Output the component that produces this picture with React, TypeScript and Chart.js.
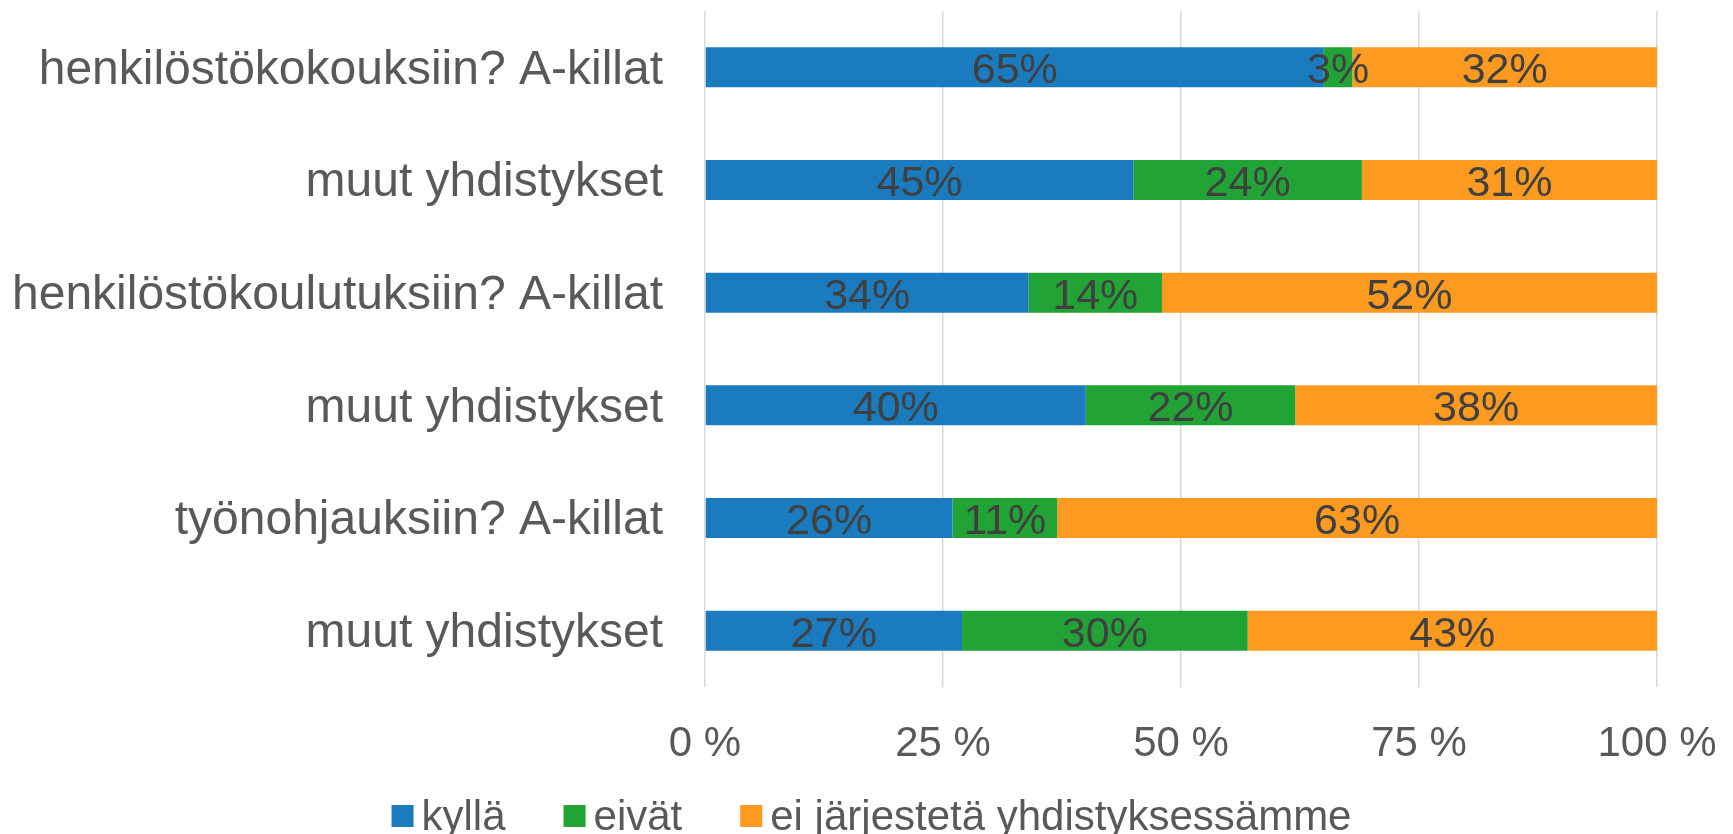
import React, { useEffect, useRef } from "react";
import { Chart, registerables } from "chart.js";

Chart.register(...registerables);

const categories = [
  "henkilöstökokouksiin? A-killat",
  "muut yhdistykset",
  "henkilöstökoulutuksiin? A-killat",
  "muut yhdistykset",
  "työnohjauksiin? A-killat",
  "muut yhdistykset",
];
const seriesNames = ["kyllä", "eivät", "ei järjestetä yhdistyksessämme"];
const kyllaValues = [65, 45, 34, 40, 26, 27];
const eivatValues = [3, 24, 14, 22, 11, 30];
const eiJarjValues = [32, 31, 52, 38, 63, 43];
const xTicks = [0, 25, 50, 75, 100];
const colors = ["#1a7bbf", "#21a336", "#fd9a1f"];

const FONT = "'Liberation Sans', Arial, sans-serif";

const dataLabelPlugin = {
  id: "dataLabels",
  afterDatasetsDraw(chart: any) {
    const ctx = chart.ctx;
    ctx.save();
    ctx.font = `43px ${FONT}`;
    ctx.fillStyle = "#404040";
    ctx.textAlign = "center";
    ctx.textBaseline = "middle";
    chart.data.datasets.forEach((ds: any, di: number) => {
      const meta = chart.getDatasetMeta(di);
      meta.data.forEach((el: any, i: number) => {
        const v = ds.data[i];
        if (!v) return;
        const cx = (el.x + el.base) / 2;
        ctx.fillText(`${v}%`, cx, el.y + 4);
      });
    });
    ctx.restore();
  },
};

const legendPlugin = {
  id: "customLegend",
  afterDraw(chart: any) {
    const ctx = chart.ctx;
    ctx.save();
    ctx.font = `42px ${FONT}`;
    const box = 22;
    const gapText = 8;
    const gapItem = 58;
    const items = chart.data.datasets.map((ds: any) => ({
      label: ds.label,
      color: ds.backgroundColor,
      w: box + gapText + ctx.measureText(ds.label).width,
    }));
    const total = items.reduce((s: number, it: any) => s + it.w, 0) + gapItem * (items.length - 1);
    let x = chart.width / 2 + 5 - total / 2;
    const cy = 816;
    items.forEach((it: any) => {
      ctx.fillStyle = it.color;
      ctx.fillRect(x, cy - box / 2, box, box);
      ctx.fillStyle = "#595959";
      ctx.textAlign = "left";
      ctx.textBaseline = "middle";
      ctx.fillText(it.label, x + box + gapText, cy + 2);
      x += it.w + gapItem;
    });
    ctx.restore();
  },
};

export default function App() {
  const canvasRef = useRef<HTMLCanvasElement | null>(null);

  useEffect(() => {
    if (!canvasRef.current) return;
    const chart = new Chart(canvasRef.current, {
      type: "bar",
      data: {
        labels: categories,
        datasets: [kyllaValues, eivatValues, eiJarjValues].map((vals, i) => ({
          label: seriesNames[i],
          data: vals,
          backgroundColor: colors[i],
          borderWidth: 0,
          categoryPercentage: 1,
          barPercentage: 0.355,
        })),
      },
      options: {
        indexAxis: "y",
        animation: false,
        responsive: true,
        maintainAspectRatio: false,
        layout: { padding: { top: 11, right: 76, bottom: 0, left: 0 } },
        plugins: {
          legend: { display: false },
          tooltip: { enabled: false },
        },
        scales: {
          x: {
            stacked: true,
            min: 0,
            max: 100,
            afterBuildTicks(scale: any) {
              scale.ticks = xTicks.map((v) => ({ value: v }));
            },
            afterFit(scale: any) {
              scale.height = 147;
              scale.paddingLeft = 0;
              scale.paddingRight = 0;
            },
            ticks: {
              padding: 32,
              color: "#595959",
              font: { family: FONT, size: 42 },
              callback: (v: any) => `${v} %`,
              maxRotation: 0,
            },
            grid: { color: "#d9d9d9", lineWidth: 1.5, drawTicks: false },
            border: { display: false },
          },
          y: {
            stacked: true,
            afterFit(scale: any) {
              scale.width = 705;
              scale.paddingTop = 0;
              scale.paddingBottom = 0;
            },
            ticks: {
              padding: 42,
              labelOffset: 3,
              color: "#595959",
              font: { family: FONT, size: 48 },
            },
            grid: { display: false, drawTicks: false },
            border: { display: false },
          },
        },
      },
      plugins: [dataLabelPlugin, legendPlugin],
    });
    return () => chart.destroy();
  }, []);

  return (
    <div style={{ position: "absolute", left: 0, top: 0, width: 1733, height: 834, background: "#fff" }}>
      <canvas ref={canvasRef} />
    </div>
  );
}
